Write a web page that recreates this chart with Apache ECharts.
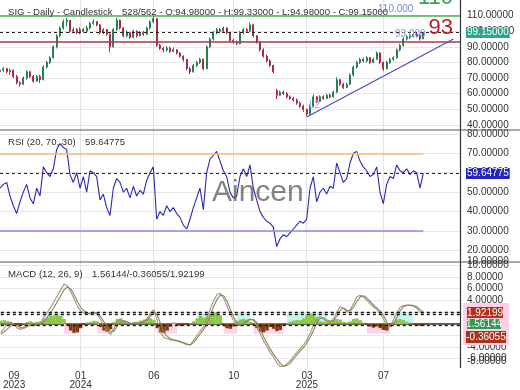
<!DOCTYPE html>
<html><head><meta charset="utf-8">
<script src="https://cdn.jsdelivr.net/npm/echarts@6/dist/echarts.min.js"></script>
<style>html,body{margin:0;padding:0;background:#fff}#c{width:520px;height:390px}</style>
</head><body><div id="c"></div>
<script>
// ---- data (one bar per ~3.3px slot) ----
const opens = [74,75,76,74,75,71,67,66,70,74, 71,68,71,69,77,80,83,90,97,102, 106,107,100,101,99,101,100,102,105,106,
 104,99,101,98,90,101,107,102,97,99, 96,100,97,99,98,102,106,108,91,89, 88,89,87,88,86,84,82,76,74,78,
 80,82,76,90,95,99,101,100,102,99, 94,93,92,99,101,100,104,97,93,88, 84,81,78,62,59,61,60,58,57,56,
 54,52,50,47,52,58,55,58,57,59, 58,61,69,66,64,66,72,77,80,82, 81,83,80,82,86,80,76,80,82,83, 88,91,95,96,97,98,97,94.98];
const closes = [75,76,74,75,71,67,66,70,74,71, 68,71,69,77,80,83,90,97,102,106, 107,100,101,99,101,100,102,105,106,104,
 99,101,98,90,101,107,102,97,99,96, 100,97,99,98,102,106,108,91,89,88, 89,87,88,86,84,82,76,74,78,80,
 82,76,90,95,99,101,100,102,99,94, 93,92,99,101,100,104,97,93,88,84, 81,78,74,59,61,60,58,57,56,54,
 52,50,47,52,58,55,58,57,59,58, 61,69,66,64,66,72,77,80,82,81, 83,80,82,86,80,76,80,82,83,88, 91,95,96,97,98,97,95,99.15];
const lows = [73,74,73,72,70,66,64.5,65.5,69,70, 67,67.5,67,68.5,76,79,82.5,89,96,101, 103,99,98.5,98,98,99,99,101,104,103,
 98,98,97,86.5,89.5,100,101,96,96,95, 95.5,96,96.5,97,97.5,101,105,90,88,86.5, 87,86,86.5,85,83,80.5,75,72.5,73.5,77,
 79,75,75.5,89,94,98,98.5,99,98,93, 92,91,91.5,98,99,99.5,96,92,87,83, 80,77,73,56.5,58.5,59,57,56,55,53,
 51,48.5,45.5,46.5,51.5,54,54.5,56,56.5,57, 57.5,60.5,65,63,63.5,65.5,71,76,79,80, 80,79,79.5,81.5,79,74.5,75.5,79,81,82.5, 87,90,94,95,96,96,94,94.98];
const highs = [76,77,76.5,76,75.5,72,68,71,75,74.5, 72,72,72,78,81,84,91,98,103,107.5, 108.5,107,102.5,102,102.5,102,103.5,106,107.5,106.5,
 104.5,102,101.5,98.5,102,108.5,107.5,102.5,100.5,99.5, 101,100.5,100,100,103,107,109.5,108.5,92,90, 90.5,90,89.5,88.5,86.5,84.5,82,77,79,81,
 83,82.5,91,96,100,102,102,103,102.5,99.5, 95,94,100,102,102,105.5,104.5,97.5,93.5,89, 85,82,78.5,63,62,62,61,59,58,57,
 55,53,50.5,53,59.5,58.5,59,59,60,60, 62,70.5,69.5,67,67,73,78,81,83,83, 84,83.5,83,87,86.5,80.5,81,83,84,89, 92,96,97.5,98.5,99,99.5,98,99.33];
const rsi = [52,54,55,48,43,39,45,50,54,47, 44,52,48,63,60,58,62,72,75,73, 72,59,55,60,52,58,50,61,60,58,
 46,49,42,38,52,57,55,50,52,47, 53,48,51,49,56,60,63,36,40,38, 43,40,42,39,37,33,31,36,42,47,
 52,41,60,67,69,71,66,61,58,50, 47,48,58,62,58,64,52,46,40,37, 35,34,32,22,26,28,27,29,31,33,
 35,34,36,52,58,45,50,52,49,53, 52,65,60,55,57,65,70,71,66,63, 61,58,59,63,50,44,54,58,57,64, 61,60,62,59,61,60,52,59.64775];
const macdLine = [-1.5,-0.8,0.0,0.3,-0.2,-0.8,-1.0,-0.6,-0.2,-0.1, -0.4,-0.2,0.2,1.2,2.0,2.8,3.8,4.8,5.8,6.8,
 6.5,5.5,4.3,3.0,2.2,1.8,1.6,1.8,2.0,1.6, 0.6,-0.4,-1.2,-1.9,-0.8,0.4,0.7,0.3,0.1,-0.1,
 0.2,0.0,0.2,0.4,0.9,1.8,2.4,0.5,-1.5,-2.4, -2.6,-2.8,-2.9,-3.0,-3.2,-3.4,-3.7,-3.6,-2.8,-2.0,
 -1.2,-0.5,1.0,2.6,4.0,5.0,5.2,4.3,3.0,1.6, 0.5,-0.2,-0.4,0.3,0.6,0.8,0.5,-0.5,-1.8,-3.0,
 -4.0,-5.0,-5.8,-6.8,-7.4,-7.4,-6.9,-6.4,-5.6,-4.9, -4.3,-3.6,-2.8,-1.6,-0.3,1.0,1.2,0.7,0.4,0.3,
 0.8,2.0,2.9,2.6,2.0,2.4,3.4,4.6,4.9,4.6, 4.0,3.4,2.9,2.4,1.8,0.8,-0.4,-0.6,0.6,1.9, 2.8,3.1,3.2,3.1,3.0,2.6,2.0,1.56144];
const signalLine = [-1.8,-1.4,-0.9,-0.4,-0.2,-0.4,-0.7,-0.8,-0.5,-0.3, -0.3,-0.3,-0.1,0.4,1.1,1.9,2.8,3.8,4.8,5.8,
 6.3,6.0,5.0,3.8,2.8,2.2,1.8,1.7,1.8,1.8, 1.2,0.3,-0.6,-1.4,-1.3,-0.4,0.3,0.5,0.3,0.1,
 0.0,0.1,0.1,0.3,0.6,1.3,2.0,1.5,0.0,-1.5, -2.2,-2.6,-2.8,-2.9,-3.1,-3.3,-3.5,-3.7,-3.2,-2.5,
 -1.7,-1.0,0.0,1.5,3.0,4.2,4.9,4.8,3.8,2.4, 1.1,0.2,-0.3,-0.1,0.4,0.7,0.7,0.1,-1.0,-2.3,
 -3.4,-4.4,-5.3,-6.1,-6.9,-7.3,-7.2,-6.8,-6.1,-5.4, -4.7,-4.1,-3.3,-2.3,-1.1,0.2,0.9,1.0,0.6,0.4,
 0.5,1.3,2.3,2.7,2.3,2.2,2.8,3.8,4.6,4.8, 4.4,3.8,3.2,2.7,2.2,1.4,0.3,-0.4,-0.1,1.0, 2.2,2.9,3.1,3.2,3.1,2.9,2.4,1.92199];
const macdHist = [0.5,0.6,0.4,0.2,-0.2,-0.3,-0.2,0.1,0.3,0.4, 0.2,0.3,0.4,0.8,1.0,1.3,1.4,1.4,1.3,0.8,
 -0.3,-1.2,-1.6,-1.5,-0.8,-0.2,0.2,0.3,0.5,0.4, -0.6,-1.2,-1.4,-1.0,0.3,0.8,0.9,0.5,0.2,-0.2,
 0.2,0.3,0.5,0.7,0.8,0.9,0.6,-0.8,-1.5,-1.6, -1.2,-0.5,0.2,-0.3,-0.4,-0.3,-0.2,0.1,0.4,0.9,
 1.3,1.0,1.2,1.6,1.9,2.0,1.4,-0.4,-0.8,-0.9, -0.5,0.4,0.7,0.8,0.6,0.3,-0.2,-0.8,-1.4,-1.5,
 -1.2,-0.6,-0.9,-1.3,-1.1,-0.3,0.1,0.3,0.5,0.6, 0.6,0.9,1.4,1.7,1.6,1.0,0.4,0.3,0.3,0.4,
 0.6,0.8,0.7,0.3,0.2,0.4,0.8,0.9,0.6,0.2, -0.2,-0.5,-0.7,-0.5,-0.8,-1.1,-1.2,-0.6,0.3,0.7, 0.8,0.6,0.3,-0.1,-0.2,-0.3,-0.4,-0.36055];

const slotCount = 139;
const tickIdx = [4, 24, 46, 70, 92, 115];
const tickLabels = ['09\n2023', '01\n2024', '06', '10', '03\n2025', '07'];
const gridIdx = [24, 46, 70, 92, 115];
const priceTicks = [40, 50, 60, 70, 80, 90, 100, 110];
const rsiTicks = [20, 30, 40, 50, 60, 70, 80];
const macdTicks = [-6, -4, -2, 0, 2, 4, 6, 8, 10];
const priceLevels = [110, 93];
const lastClose = 99.15;
const trendFrom = [92, 45.1], trendTo = [136, 95];
const rsiBands = [70, 30];
const rsiLast = 59.64775;
const macdLevels = [1.92199, 1.56144, -0.36055];
const posBands = [[13, 19], [59, 66], [71, 75], [86, 98], [118, 124]];
const negBands = [[19, 24], [29, 33], [47, 53], [67, 71], [76, 85], [110, 117]];

const FONT = 'Liberation Sans';
const cats = Array.from({length: slotCount}, (_, i) => String(i));
const candles = closes.map((c, i) => [opens[i], c, lows[i], highs[i]]);

function xAx(g, show) {
  return {
    type: 'category', gridIndex: g, data: cats, boundaryGap: false,
    axisLine: {show: show, lineStyle: {color: '#333', width: 1.5}},
    axisTick: {show: false},
    axisLabel: {show: show, interval: (i) => tickIdx.includes(i),
      formatter: (v) => { const k = tickIdx.indexOf(Number(v)); return k >= 0 ? tickLabels[k] : ''; },
      color: '#333', fontSize: 10, lineHeight: 9, margin: 4, fontFamily: FONT},
    splitLine: {show: true, interval: (i) => gridIdx.includes(i), lineStyle: {color: '#e3e3e3', width: 1}}
  };
}
function yAx(g, min, max, ticks) {
  return {
    type: 'value', gridIndex: g, position: 'right', min: min, max: max, scale: true,
    axisLine: {show: true, lineStyle: {color: '#333', width: 1.2}},
    axisTick: {show: false, customValues: ticks},
    axisLabel: {customValues: ticks, formatter: (v) => Number(v).toFixed(5), color: '#333', fontSize: 10, margin: 7, fontFamily: FONT},
    splitLine: {show: true, lineStyle: {color: '#e6e6e6', width: 1}}
  };
}
function txt(x, y, s, fill, font, align) {
  return {type: 'text', x: x, y: y, z: 100, silent: true,
    style: {text: s, fill: fill, font: font, align: align || 'left', verticalAlign: 'middle'}};
}
function tag(x, y, w, h, bg, s) {
  return [
    {type: 'rect', shape: {x: x, y: y, width: w, height: h}, style: {fill: bg}, z: 101, silent: true},
    {type: 'text', x: x + w / 2, y: y + h / 2 + 0.5, z: 102, silent: true,
      style: {text: s, fill: '#fff', font: '10px "' + FONT + '"', align: 'center', verticalAlign: 'middle'}}
  ];
}
const noSym = ['none', 'none'];
const F10 = '9.6px "' + FONT + '"';

const option = {
  animation: false,
  textStyle: {fontFamily: FONT},
  grid: [
    {left: 0, right: 60, top: 0, height: 130},
    {left: 0, right: 60, top: 130, height: 132},
    {left: 0, right: 60, top: 262, height: 106}
  ],
  xAxis: [xAx(0, false), xAx(1, false), xAx(2, true)],
  yAxis: [yAx(0, 36.8, 119.9, priceTicks), yAx(1, 14, 82, rsiTicks), yAx(2, -7.56, 10.6, macdTicks)],
  series: [
    {
      type: 'candlestick', xAxisIndex: 0, yAxisIndex: 0, data: candles, barMaxWidth: 1.6,
      itemStyle: {color: '#2f9e63', color0: '#c03050', borderColor: '#27804f', borderColor0: '#a82a46', borderWidth: 1},
      markLine: {
        symbol: noSym, silent: true, label: {show: false}, z: 3,
        data: [
          {yAxis: priceLevels[0], lineStyle: {color: '#4caf50', width: 1.5, type: 'solid'}},
          {yAxis: priceLevels[1], lineStyle: {color: '#a83a4a', width: 1.5, type: 'solid'}},
          {yAxis: lastClose, lineStyle: {color: '#222', width: 1.2, type: [3, 3]},
            label: {show: true, position: 'end', distance: 6, formatter: '99.15000', color: '#fff',
              backgroundColor: '#2ea58a', padding: [1, 1, 0, 1], fontSize: 10, fontFamily: FONT}},
          [{coord: [String(trendFrom[0]), trendFrom[1]], lineStyle: {color: '#4b4bbf', width: 1.2, type: 'solid'}},
           {coord: [String(trendTo[0]), trendTo[1]]}]
        ]
      }
    },
    {
      type: 'line', xAxisIndex: 1, yAxisIndex: 1, data: rsi, showSymbol: false,
      lineStyle: {color: '#2a2aae', width: 1.1}, z: 3,
      markLine: {
        symbol: noSym, silent: true, label: {show: false},
        data: [
          [{coord: ['0', rsiBands[0]], lineStyle: {color: '#f5bd7a', width: 1.5, type: 'solid'}}, {coord: ['127', rsiBands[0]]}],
          [{coord: ['0', rsiBands[1]], lineStyle: {color: '#8a8aee', width: 1.5, type: 'solid'}}, {coord: ['127', rsiBands[1]]}],
          {yAxis: rsiLast, lineStyle: {color: '#222', width: 1.2, type: [3, 3]},
            label: {show: true, position: 'end', distance: 6, formatter: '59.64775', color: '#fff',
              backgroundColor: '#2323c4', padding: [1, 1, 0, 1], fontSize: 10, fontFamily: FONT}}
        ]
      }
    },
    {
      type: 'line', xAxisIndex: 2, yAxisIndex: 2, data: [], z: 1, silent: true,
      markArea: {
        silent: true,
        data: posBands.map(b => [{xAxis: String(b[0]), yAxis: 0, itemStyle: {color: '#c2f7ee'}}, {xAxis: String(b[1]), yAxis: 1.85}])
          .concat(negBands.map(b => [{xAxis: String(b[0]), yAxis: 0, itemStyle: {color: '#ffd3ea'}}, {xAxis: String(b[1]), yAxis: -1.75}]))
      }
    },
    {
      type: 'bar', xAxisIndex: 2, yAxisIndex: 2, data: macdHist, barWidth: '100%', barCategoryGap: '0%', z: 2,
      itemStyle: {color: (p) => p.value >= 0 ? '#8cc63f' : '#7a3d10'}
    },
    {
      type: 'line', xAxisIndex: 2, yAxisIndex: 2, data: macdLine, showSymbol: false, z: 3,
      lineStyle: {color: '#a39474', width: 1.1},
      markLine: {
        symbol: noSym, silent: true, label: {show: false},
        data: macdLevels.map(v => ({yAxis: v, lineStyle: {color: '#111', width: 1.3, type: [3, 3]}}))
      }
    },
    {
      type: 'line', xAxisIndex: 2, yAxisIndex: 2, data: signalLine, showSymbol: false, z: 3,
      lineStyle: {color: '#8e8064', width: 1.1}
    }
  ],
  graphic: [
    {type: 'line', shape: {x1: 0, y1: 130, x2: 520, y2: 130}, style: {stroke: '#555', lineWidth: 1}, z: 50, silent: true},
    {type: 'line', shape: {x1: 0, y1: 262, x2: 520, y2: 262}, style: {stroke: '#555', lineWidth: 1}, z: 50, silent: true},
    txt(8, 12, 'SIG - Daily - Candlestick', '#333', F10),
    txt(122, 12, '528/562 - O:94.98000 - H:99.33000 - L:94.98000 - C:99.15000', '#333', F10),
    txt(8, 142, 'RSI (20, 70, 30)', '#333', F10),
    txt(85, 142, '59.64775', '#333', F10),
    txt(8, 274, 'MACD (12, 26, 9)', '#333', F10),
    txt(92, 274, '1.56144/-0.36055/1.92199', '#333', F10),
    txt(453, -2, '110', '#3aa04a', '22px "' + FONT + '"', 'right'),
    txt(453, 28, '93', '#b81e2a', '22px "' + FONT + '"', 'right'),
    txt(378, 9, '110.000', '#6f8fd0', '10px "' + FONT + '"'),
    txt(395, 34, '93.000', '#7f9bd8', '10px "' + FONT + '"'),
    txt(309, 105, 'L2', '#8ab0e8', '10px "' + FONT + '"'),
    txt(212, 193, 'Aincen', 'rgba(90,90,90,0.75)', '30px "' + FONT + '"'),
    txt(467, 261, '10.00000', '#333', '10px "' + FONT + '"'),
    txt(467, 361, '-8.00000', '#333', '10px "' + FONT + '"'),
    {type: 'rect', shape: {x: 463, y: 303, width: 46, height: 42}, style: {fill: '#ffd0e6'}, z: 100, silent: true}
  ].concat(tag(467, 307, 36, 11, '#b3301c', '1.92199'))
   .concat(tag(467, 319, 34, 10, '#2e9a55', '1.56144'))
   .concat(tag(466, 331, 40, 12, '#a8341a', '-0.36055'))
};

const chart = echarts.init(document.getElementById('c'), null, {renderer: 'canvas'});
chart.setOption(option);
</script>
</body></html>
